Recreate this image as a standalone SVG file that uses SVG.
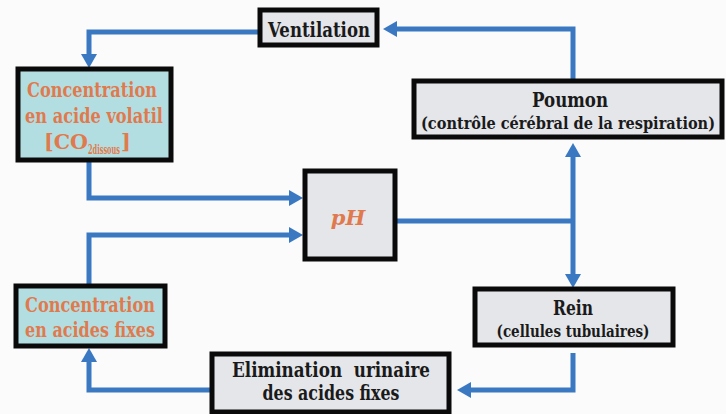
<svg xmlns="http://www.w3.org/2000/svg" width="726" height="414" viewBox="0 0 726 414">
<style>
.box{stroke:#0a0a0a;stroke-width:5}
.grey{fill:#e4e6ea}
.cyan{fill:#b3dee1}
.t{font-family:'DejaVu Serif','Liberation Serif',serif;font-weight:bold;text-anchor:middle}
.dark{fill:#1a1a1a}
.org{fill:#e07a4e}
.con{fill:none;stroke:#3b78c2;stroke-width:5}
</style>
<defs>
<marker id="ah" viewBox="0 0 14 16" refX="6" refY="8" markerWidth="14" markerHeight="16" markerUnits="userSpaceOnUse" orient="auto-start-reverse">
<path d="M0,0 L14,8 L0,16 z" fill="#3b78c2"/>
</marker>
</defs>
<rect width="726" height="414" fill="#fbfbfb"/>
<g id="connectors">
<path class="con" d="M573,80 V29 H391" marker-end="url(#ah)"/>
<path class="con" d="M258,32 H89 V60" marker-end="url(#ah)"/>
<path class="con" d="M89,160 V198 H295" marker-end="url(#ah)"/>
<path class="con" d="M89,284 V235 H295" marker-end="url(#ah)"/>
<path class="con" d="M395,221 H573"/>
<path class="con" d="M573,151 V280" marker-start="url(#ah)" marker-end="url(#ah)"/>
<path class="con" d="M573,353 V390 H465" marker-end="url(#ah)"/>
<path class="con" d="M210,390 H89 V356" marker-end="url(#ah)"/>
</g>
<g id="ventilation">
<rect class="box grey" x="260" y="10" width="117" height="35"/>
<text class="t dark" x="319" y="37" font-size="21" textLength="102" lengthAdjust="spacingAndGlyphs">Ventilation</text>
</g>
<g id="acide-volatil">
<rect class="box cyan" x="18" y="69" width="153" height="91"/>
<text class="t org" x="92" y="97" font-size="21" textLength="130" lengthAdjust="spacingAndGlyphs">Concentration</text>
<text class="t org" x="94" y="123" font-size="21" textLength="138" lengthAdjust="spacingAndGlyphs">en acide volatil</text>
<text class="t org" x="44" y="149" font-size="21" style="text-anchor:start"><tspan textLength="44" lengthAdjust="spacingAndGlyphs">[CO</tspan><tspan x="88" dy="5" font-size="12" textLength="32" lengthAdjust="spacingAndGlyphs">2dissous</tspan><tspan x="121" dy="-5">]</tspan></text>
</g>
<g id="ph">
<rect class="box grey" x="305" y="171" width="90" height="88"/>
<text class="t org" x="348" y="225" font-size="21" font-style="italic">pH</text>
</g>
<g id="poumon">
<rect class="box grey" x="414" y="81" width="308" height="56"/>
<text class="t dark" x="570" y="107" font-size="21" textLength="76" lengthAdjust="spacingAndGlyphs">Poumon</text>
<text class="t dark" x="568" y="129" font-size="16" textLength="294" lengthAdjust="spacingAndGlyphs">(contrôle cérébral de la respiration)</text>
</g>
<g id="rein">
<rect class="box grey" x="475" y="289" width="198" height="56"/>
<text class="t dark" x="573" y="315" font-size="21" textLength="40" lengthAdjust="spacingAndGlyphs">Rein</text>
<text class="t dark" x="573" y="337" font-size="17" textLength="153" lengthAdjust="spacingAndGlyphs">(cellules tubulaires)</text>
</g>
<g id="acides-fixes">
<rect class="box cyan" x="16" y="286" width="149" height="60"/>
<text class="t org" x="90" y="312" font-size="21" textLength="130" lengthAdjust="spacingAndGlyphs">Concentration</text>
<text class="t org" x="90" y="337" font-size="21" textLength="130" lengthAdjust="spacingAndGlyphs">en acides fixes</text>
</g>
<g id="elimination">
<rect class="box grey" x="212" y="354" width="237" height="58"/>
<text class="t dark" x="331" y="377" font-size="21" textLength="198" lengthAdjust="spacingAndGlyphs" xml:space="preserve">Elimination  urinaire</text>
<text class="t dark" x="331" y="400" font-size="21" textLength="137" lengthAdjust="spacingAndGlyphs">des acides fixes</text>
</g>
</svg>
